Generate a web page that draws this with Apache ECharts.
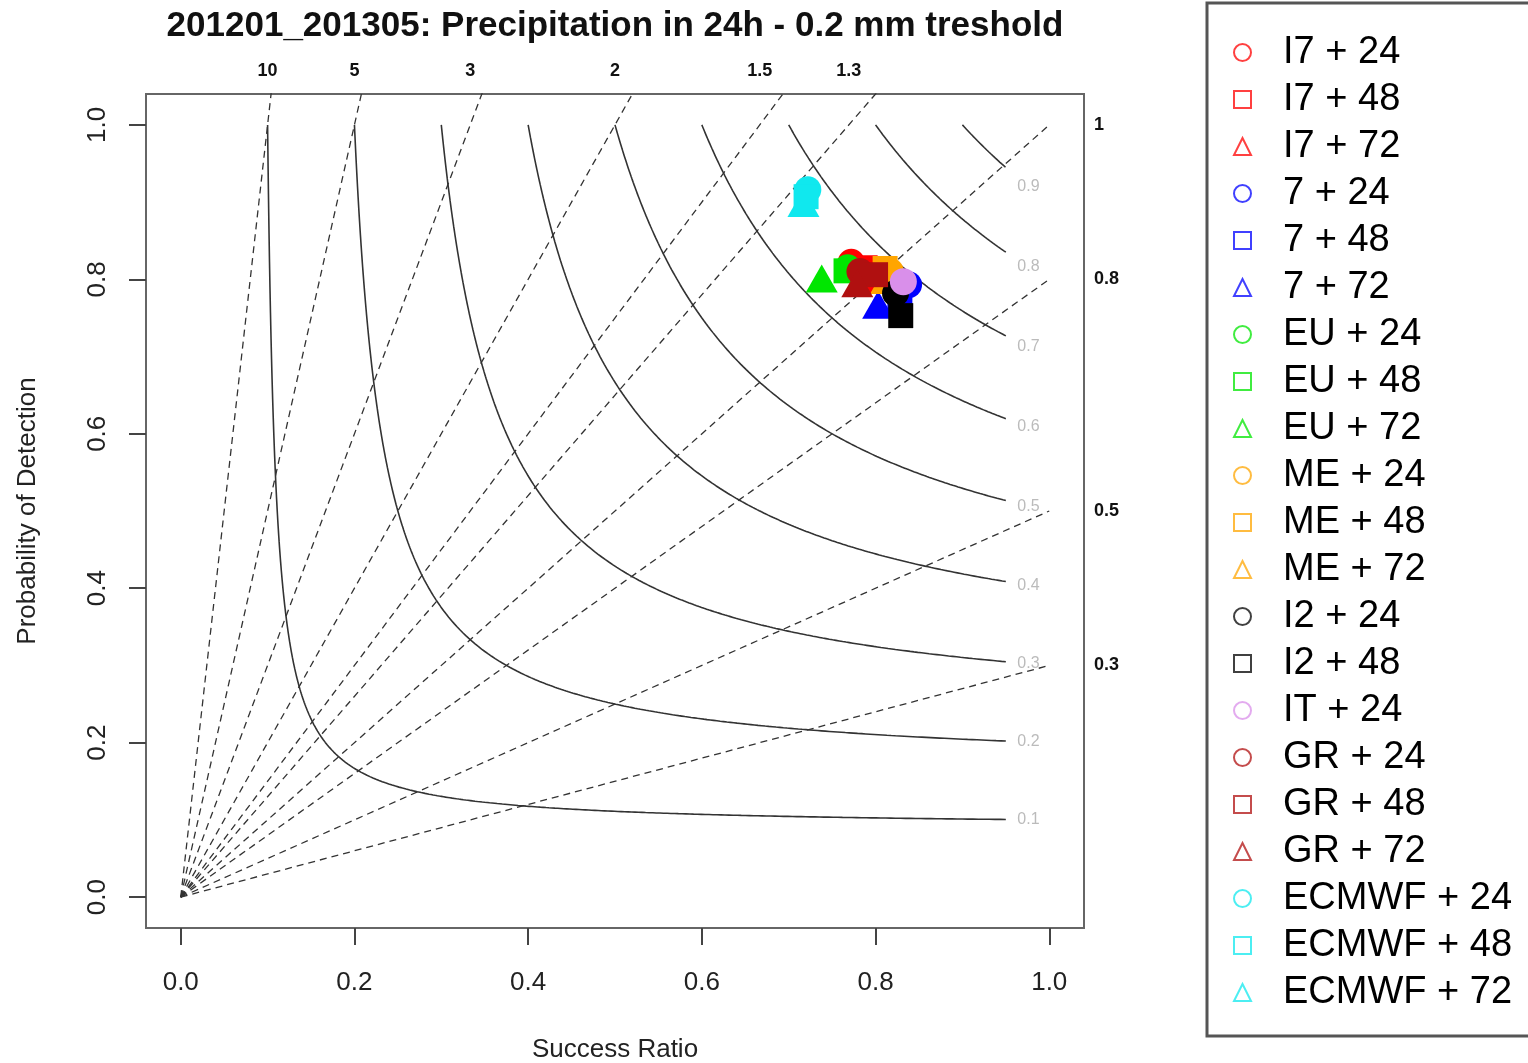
<!DOCTYPE html>
<html><head><meta charset="utf-8">
<script src="https://cdn.jsdelivr.net/npm/echarts@6/dist/echarts.min.js"></script>
<style>html,body{margin:0;padding:0;background:#fff}#c{width:1528px;height:1063px}</style>
</head><body><div id="c"></div>
<script>
// ---------- data ----------
const titleText = '201201_201305: Precipitation in 24h - 0.2 mm treshold';
const xTicks = [0, 0.2, 0.4, 0.6, 0.8, 1.0];
const yTicks = [0, 0.2, 0.4, 0.6, 0.8, 1.0];
const csiLevels = [0.1, 0.2, 0.3, 0.4, 0.5, 0.6, 0.7, 0.8, 0.9];
const biasTop = [10, 5, 3, 2, 1.5, 1.3];
const biasRight = [1, 0.8, 0.5, 0.3];
const biasLines = [10, 5, 3, 2, 1.5, 1.3, 1, 0.8, 0.5, 0.3];

const seriesNames = ['I7 + 24','I7 + 48','I7 + 72','7 + 24','7 + 48','7 + 72',
  'EU + 24','EU + 48','EU + 72','ME + 24','ME + 48','ME + 72',
  'I2 + 24','I2 + 48','IT + 24','GR + 24','GR + 48','GR + 72',
  'ECMWF + 24','ECMWF + 48','ECMWF + 72'];
const seriesModel = ['I7','I7','I7','7','7','7','EU','EU','EU','ME','ME','ME','I2','I2','IT','GR','GR','GR','ECMWF','ECMWF','ECMWF'];
const seriesShape = ['circle','rect','triangle','circle','rect','triangle','circle','rect','triangle',
  'circle','rect','triangle','circle','rect','circle','circle','rect','triangle','circle','rect','triangle'];
const successRatio = [0.772,0.788,0.796, 0.838,0.828,0.803, 0.768,0.766,0.738, 0.817,0.811,0.812,
  0.823,0.829, 0.832, 0.782,0.800,0.779, 0.722,0.720,0.717];
const probDetection = [0.822,0.815,0.799, 0.793,0.772,0.767, 0.815,0.811,0.801, 0.810,0.814,0.799,
  0.782,0.753, 0.797, 0.810,0.806,0.795, 0.916,0.907,0.899];
const modelColors = {I7:'#FF0000','7':'#0000FF',EU:'#00E600',ME:'#FFA500',I2:'#000000',IT:'#D98FEA',GR:'#B01010',ECMWF:'#10E8EE'};

// ---------- helpers ----------
const podFor = (c, s) => 1 / (1 / c - 1 / s + 1);
const symSize = {circle: 27, rect: 25, triangle: [32, 28]};
const FONT = 'Liberation Sans, Arial, sans-serif';

const series = [];
// bias lines
biasLines.forEach(b => {
  series.push({type:'line', data:[[0,0],[1,b]], symbol:'none', silent:true, clip:true, z:1,
    lineStyle:{color:'#333', width:1.3, type:[7,5]}});
});
// CSI curves
csiLevels.forEach(c => {
  const pts = [];
  const N = 400;
  for (let i = 0; i <= N; i++) {
    const t = i / N;
    const s = c + (0.95 - c) * t * t * t;
    pts.push([s, podFor(c, s)]);
  }
  series.push({type:'line', data:pts, symbol:'none', silent:true, z:1,
    lineStyle:{color:'#333', width:1.6}});
});
// CSI labels
series.push({type:'scatter', silent:true, symbolSize:0, z:2,
  data: csiLevels.map(c => [0.976, podFor(c, 0.976), c]),
  label:{show:true, position:'inside', formatter: p => String(p.value[2]), color:'#aaa', fontSize:16, fontFamily:FONT}});
// data points
seriesNames.forEach((n, i) => {
  const col = modelColors[seriesModel[i]];
  series.push({type:'scatter', name:n, symbol:seriesShape[i], symbolSize:symSize[seriesShape[i]],
    data:[[successRatio[i], probDetection[i]]], itemStyle:{color:col, opacity:1}, z:3});
});

const lookup = (arr, v) => { for (const b of arr) { if (Math.abs(1 / b - v) < 1e-6) return String(b); } return ''; };
const lookupR = (arr, v) => { for (const b of arr) { if (Math.abs(b - v) < 1e-6) return String(b); } return ''; };

const chart = echarts.init(document.getElementById('c'), null, {renderer:'canvas'});
chart.setOption({
  backgroundColor:'#fff',
  animation:false,
  title:{text:titleText, left:610, top:4, textAlign:'center',
    textStyle:{fontFamily:'Liberation Sans Narrow, Liberation Sans, Arial', fontWeight:'bold', fontSize:35, color:'#111'}},
  grid:{left:146, right:444, top:94, bottom:135, containLabel:false, outerBoundsMode:'none',
    show:true, borderColor:'#666', borderWidth:2, backgroundColor:'#fff'},
  xAxis:[{
    type:'value', min:-0.04, max:1.04, position:'bottom',
    splitLine:{show:false}, axisLine:{show:false, onZero:false},
    axisTick:{show:true, customValues:xTicks, length:17, lineStyle:{color:'#444', width:2}},
    axisLabel:{customValues:xTicks, formatter:v => v.toFixed(1), fontSize:26, margin:42, color:'#222', fontFamily:FONT},
    name:'Success Ratio', nameLocation:'middle', nameGap:109,
    nameTextStyle:{fontSize:26, color:'#222', fontFamily:FONT}
  },{
    type:'value', min:-0.04, max:1.04, position:'top',
    splitLine:{show:false}, axisLine:{show:false, onZero:false}, axisTick:{show:false},
    axisLabel:{customValues:biasTop.map(b => 1 / b), formatter:v => lookup(biasTop, v), fontSize:18, fontWeight:'bold', margin:14, color:'#111', fontFamily:FONT}
  }],
  yAxis:[{
    type:'value', min:-0.04, max:1.04, position:'left',
    splitLine:{show:false}, axisLine:{show:false, onZero:false},
    axisTick:{show:true, customValues:yTicks, length:17, lineStyle:{color:'#444', width:2}},
    axisLabel:{customValues:yTicks, formatter:v => v.toFixed(1), fontSize:26, margin:35, rotate:90, color:'#222', fontFamily:FONT},
    name:'Probability of Detection', nameLocation:'middle', nameGap:105,
    nameTextStyle:{fontSize:26, color:'#222', fontFamily:FONT}
  },{
    type:'value', min:-0.04, max:1.04, position:'right',
    splitLine:{show:false}, axisLine:{show:false, onZero:false}, axisTick:{show:false},
    axisLabel:{customValues:biasRight, formatter:v => lookupR(biasRight, v), fontSize:18, fontWeight:'bold', margin:10, color:'#111', fontFamily:FONT}
  }],
  legend:{
    orient:'vertical', left:1207, top:3,
    padding:[26, 40, 20, 26],
    itemWidth:17, itemHeight:17, itemGap:0,
    borderColor:'#555', borderWidth:3, backgroundColor:'#fff',
    selectedMode:false,
    textStyle:{fontSize:38, fontFamily:FONT, color:'#000', lineHeight:47, padding:[0,0,0,27]},
    data: seriesNames.map((n, i) => ({name:n, icon:seriesShape[i],
      itemStyle:{color:'rgba(255,255,255,0)', borderColor:modelColors[seriesModel[i]], borderWidth:2, opacity:0.75}}))
  },
  series: series
});
</script>
</body></html>
